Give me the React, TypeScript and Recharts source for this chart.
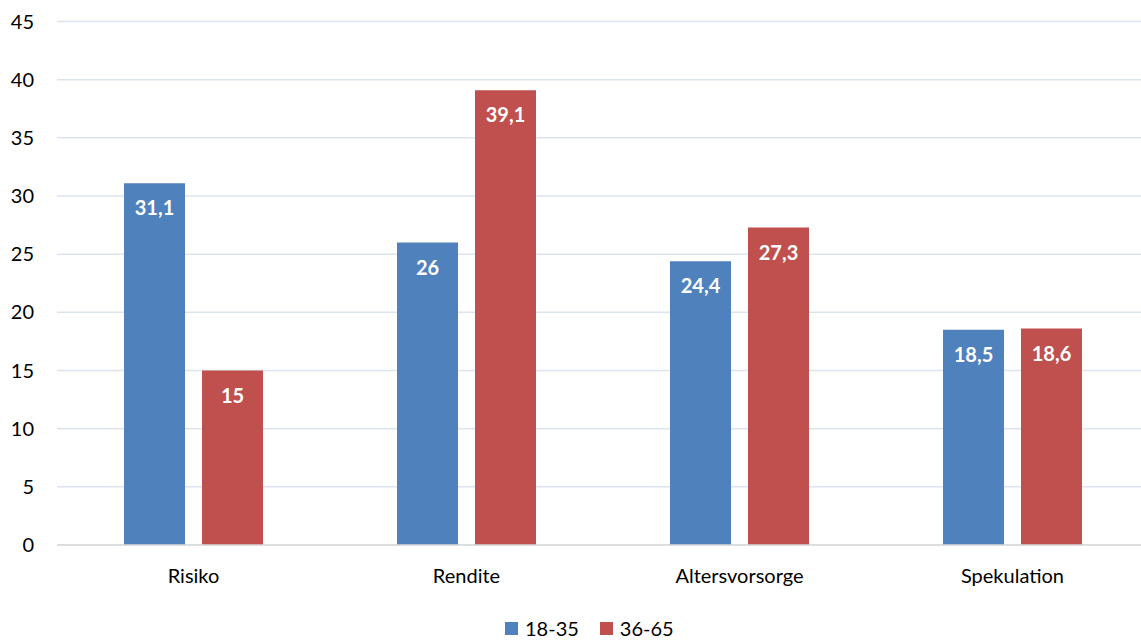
import React from 'react';
import { BarChart, Bar, XAxis, YAxis, CartesianGrid, Legend, LabelList } from 'recharts';

const categories = ['Risiko', 'Rendite', 'Altersvorsorge', 'Spekulation'];
const young = [31.1, 26, 24.4, 18.5];
const old = [15, 39.1, 27.3, 18.6];
const yTicks = [0, 5, 10, 15, 20, 25, 30, 35, 40, 45];
const seriesNames = ['18-35', '36-65'];

const data = categories.map((c, i) => ({ name: c, a: young[i], b: old[i] }));

const FONT = 'Lato, "Open Sans", sans-serif';
const fmt = (v: any) => String(v).replace('.', ',');

const renderLegend = (props: any) => {
  const { payload } = props;
  return (
    <div style={{ display: 'flex', paddingLeft: 505, paddingTop: 17, fontFamily: FONT, fontSize: 20, color: '#000' }}>
      {payload.map((p: any, i: number) => (
        <div key={i} style={{ display: 'flex', alignItems: 'center', marginRight: 21 }}>
          <span style={{ display: 'inline-block', width: 13, height: 13, background: p.color, marginRight: 7 }} />
          <span>{p.value}</span>
        </div>
      ))}
    </div>
  );
};

export default function App() {
  return (
    <div style={{ position: 'absolute', left: 0, top: 0, width: 1141, height: 642, overflow: 'hidden', background: '#fff' }}>
      <BarChart
        width={1149}
        height={642}
        data={data}
        margin={{ top: 21.5, right: 0, bottom: 0, left: 0 }}
        barSize={61}
        barGap={17}
      >
        <CartesianGrid vertical={false} stroke="#dde4f1" strokeWidth={1.5} />
        <XAxis
          dataKey="name"
          axisLine={{ stroke: '#d9d9d9', strokeWidth: 1.5 }}
          tickLine={false}
          tickSize={0}
          tickMargin={24}
          height={54}
          tick={{ fontFamily: FONT, fontSize: 20, fill: '#000' }}
        />
        <YAxis
          domain={[0, 45]}
          ticks={yTicks}
          interval={0}
          width={57}
          axisLine={false}
          tickLine={false}
          tickSize={0}
          tickMargin={23}
          tick={{ fontFamily: FONT, fontSize: 20, fill: '#000' }}
        />
        <Legend verticalAlign="bottom" height={43} content={renderLegend} />
        <Bar dataKey="a" name={seriesNames[0]} fill="#4F81BD" isAnimationActive={false}>
          <LabelList dataKey="a" position="insideTop" offset={18} formatter={fmt} fill="#fff" fontFamily={FONT} fontSize={20} fontWeight="bold" />
        </Bar>
        <Bar dataKey="b" name={seriesNames[1]} fill="#C0504D" isAnimationActive={false}>
          <LabelList dataKey="b" position="insideTop" offset={18} formatter={fmt} fill="#fff" fontFamily={FONT} fontSize={20} fontWeight="bold" />
        </Bar>
      </BarChart>
    </div>
  );
}
